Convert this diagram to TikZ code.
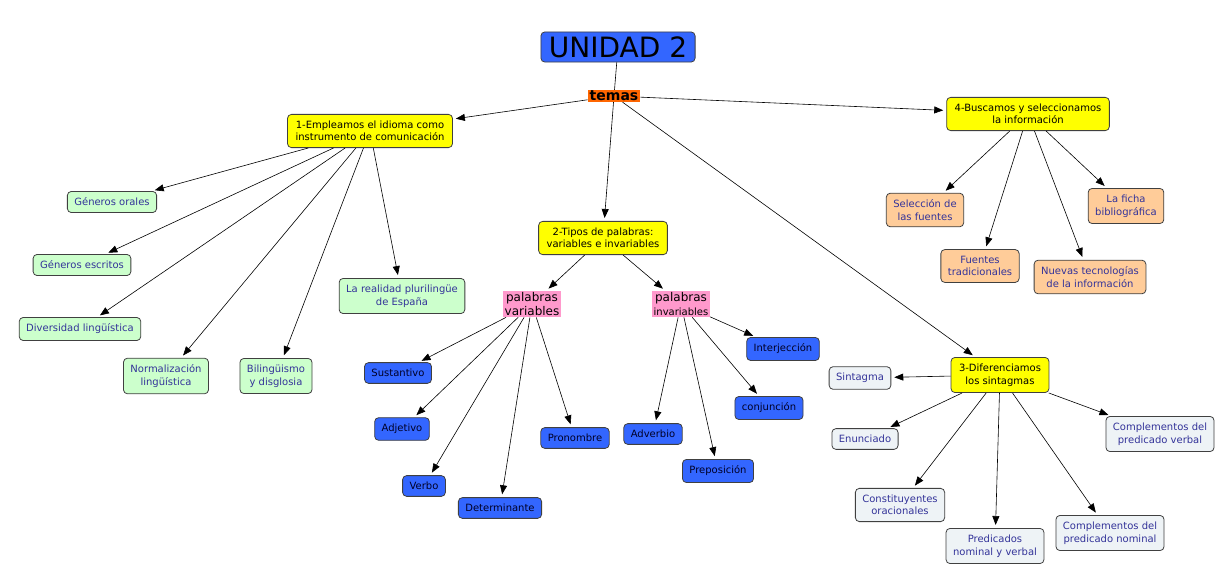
\documentclass[tikz,border=0pt]{standalone}
\usepackage{fontspec}
\setmainfont{DejaVu Sans}
\usetikzlibrary{arrows.meta}

\definecolor{unidadblue}{HTML}{3366FF}
\definecolor{temaorange}{HTML}{FF6600}
\definecolor{temayellow}{HTML}{FFFF00}
\definecolor{greenbox}{HTML}{CCFFCC}
\definecolor{peachbox}{HTML}{FFCC99}
\definecolor{pinkbox}{HTML}{FF99CC}
\definecolor{graybox}{HTML}{EEF3F6}
\definecolor{textblue}{HTML}{333399}

\tikzset{
  concept/.style={draw=black!75, line width=0.8pt, rounded corners=4pt, align=center,
    inner xsep=7pt, inner ysep=6.5pt, text=textblue,
    font=\fontsize{10}{12.5}\selectfont},
  tema/.style={concept, fill=temayellow, text=black, inner xsep=8pt},
  greenc/.style={concept, fill=greenbox},
  peachc/.style={concept, fill=peachbox},
  grayc/.style={concept, fill=graybox},
  bluec/.style={concept, fill=unidadblue, text=black!85!blue},
  pinkc/.style={fill=pinkbox, inner sep=1.5pt, align=center,
    font=\fontsize{12}{14}\selectfont},
  link/.style={line width=0.6pt, -{Triangle[length=9pt,width=7pt]}, shorten >=3pt}
}

\begin{document}
\begin{tikzpicture}[x=1pt,y=1pt]
\useasboundingbox (0,0) rectangle (1224,-583);

\node [concept, fill=unidadblue, text=black, inner xsep=8pt, inner ysep=4.5pt,
  font=\fontsize{28}{30}\selectfont] (unidad) at (618,-47) {UNIDAD 2};
\node [fill=temaorange, inner xsep=2pt, inner ysep=1pt, font=\fontsize{14}{16}\selectfont\bfseries] (temas) at (614,-96) {temas};

\node [tema] (t1) at (370,-131) {1-Empleamos el idioma como\\instrumento de comunicación};
\node [tema] (t2) at (603,-238) {2-Tipos de palabras:\\variables e invariables};
\node [tema] (t3) at (1000,-375) {3-Diferenciamos\\los sintagmas};
\node [tema] (t4) at (1028,-114) {4-Buscamos y seleccionamos\\la información};

% tema 1
\node [greenc] (orales) at (112,-202) {Géneros orales};
\node [greenc] (escritos) at (82,-265) {Géneros escritos};
\node [greenc] (diversidad) at (80,-329) {Diversidad lingüística};
\node [greenc] (normal) at (166,-376) {Normalización\\lingüística};
\node [greenc] (bilingue) at (276,-376) {Bilingüismo\\y disglosia};
\node [greenc] (realidad) at (402,-296) {La realidad plurilingüe\\de España};

% tema 2
\node [pinkc] (variables) at (532,-304) {palabras\\variables};
\node [pinkc] (invariables) at (681,-304) {palabras\\{\fontsize{10}{12}\selectfont invariables}};
\node [bluec] (sustantivo) at (398,-373) {Sustantivo};
\node [bluec] (adjetivo) at (402,-429) {Adjetivo};
\node [bluec] (verbo) at (424,-486) {Verbo};
\node [bluec] (determinante) at (500,-508) {Determinante};
\node [bluec] (pronombre) at (575,-438) {Pronombre};
\node [bluec] (adverbio) at (653,-434) {Adverbio};
\node [bluec] (preposicion) at (718,-471) {Preposición};
\node [bluec] (conjuncion) at (769,-408) {conjunción};
\node [bluec] (interjeccion) at (783,-349) {Interjección};

% tema 3
\node [grayc] (sintagma) at (860,-378) {Sintagma};
\node [grayc] (enunciado) at (865,-439) {Enunciado};
\node [grayc] (constituyentes) at (900,-505) {Constituyentes\\oracionales};
\node [grayc] (predicados) at (995,-546) {Predicados\\nominal y verbal};
\node [grayc] (complnominal) at (1110,-533) {Complementos del\\predicado nominal};
\node [grayc] (complverbal) at (1160,-434) {Complementos del\\predicado verbal};

% tema 4
\node [peachc] (seleccion) at (925,-210) {Selección de\\las fuentes};
\node [peachc] (fuentes) at (980,-266) {Fuentes\\tradicionales};
\node [peachc] (nuevas) at (1090,-277) {Nuevas tecnologías\\de la información};
\node [peachc] (ficha) at (1126,-206) {La ficha\\bibliográfica};

\draw [line width=0.6pt] (unidad) -- (temas);
\foreach \t in {t1,t2,t3,t4}
  \draw [link] (temas) -- (\t);
\foreach \n in {orales,escritos,diversidad,normal,bilingue,realidad}
  \draw [link] (t1) -- (\n);
\draw [link] (t2) -- (variables);
\draw [link] (t2) -- (invariables);
\foreach \n in {sustantivo,adjetivo,verbo,determinante,pronombre}
  \draw [link] (variables) -- (\n);
\foreach \n in {adverbio,preposicion,conjuncion,interjeccion}
  \draw [link] (invariables) -- (\n);
\foreach \n in {sintagma,enunciado,constituyentes,predicados,complnominal,complverbal}
  \draw [link] (t3) -- (\n);
\foreach \n in {seleccion,fuentes,nuevas,ficha}
  \draw [link] (t4) -- (\n);
\end{tikzpicture}
\end{document}
